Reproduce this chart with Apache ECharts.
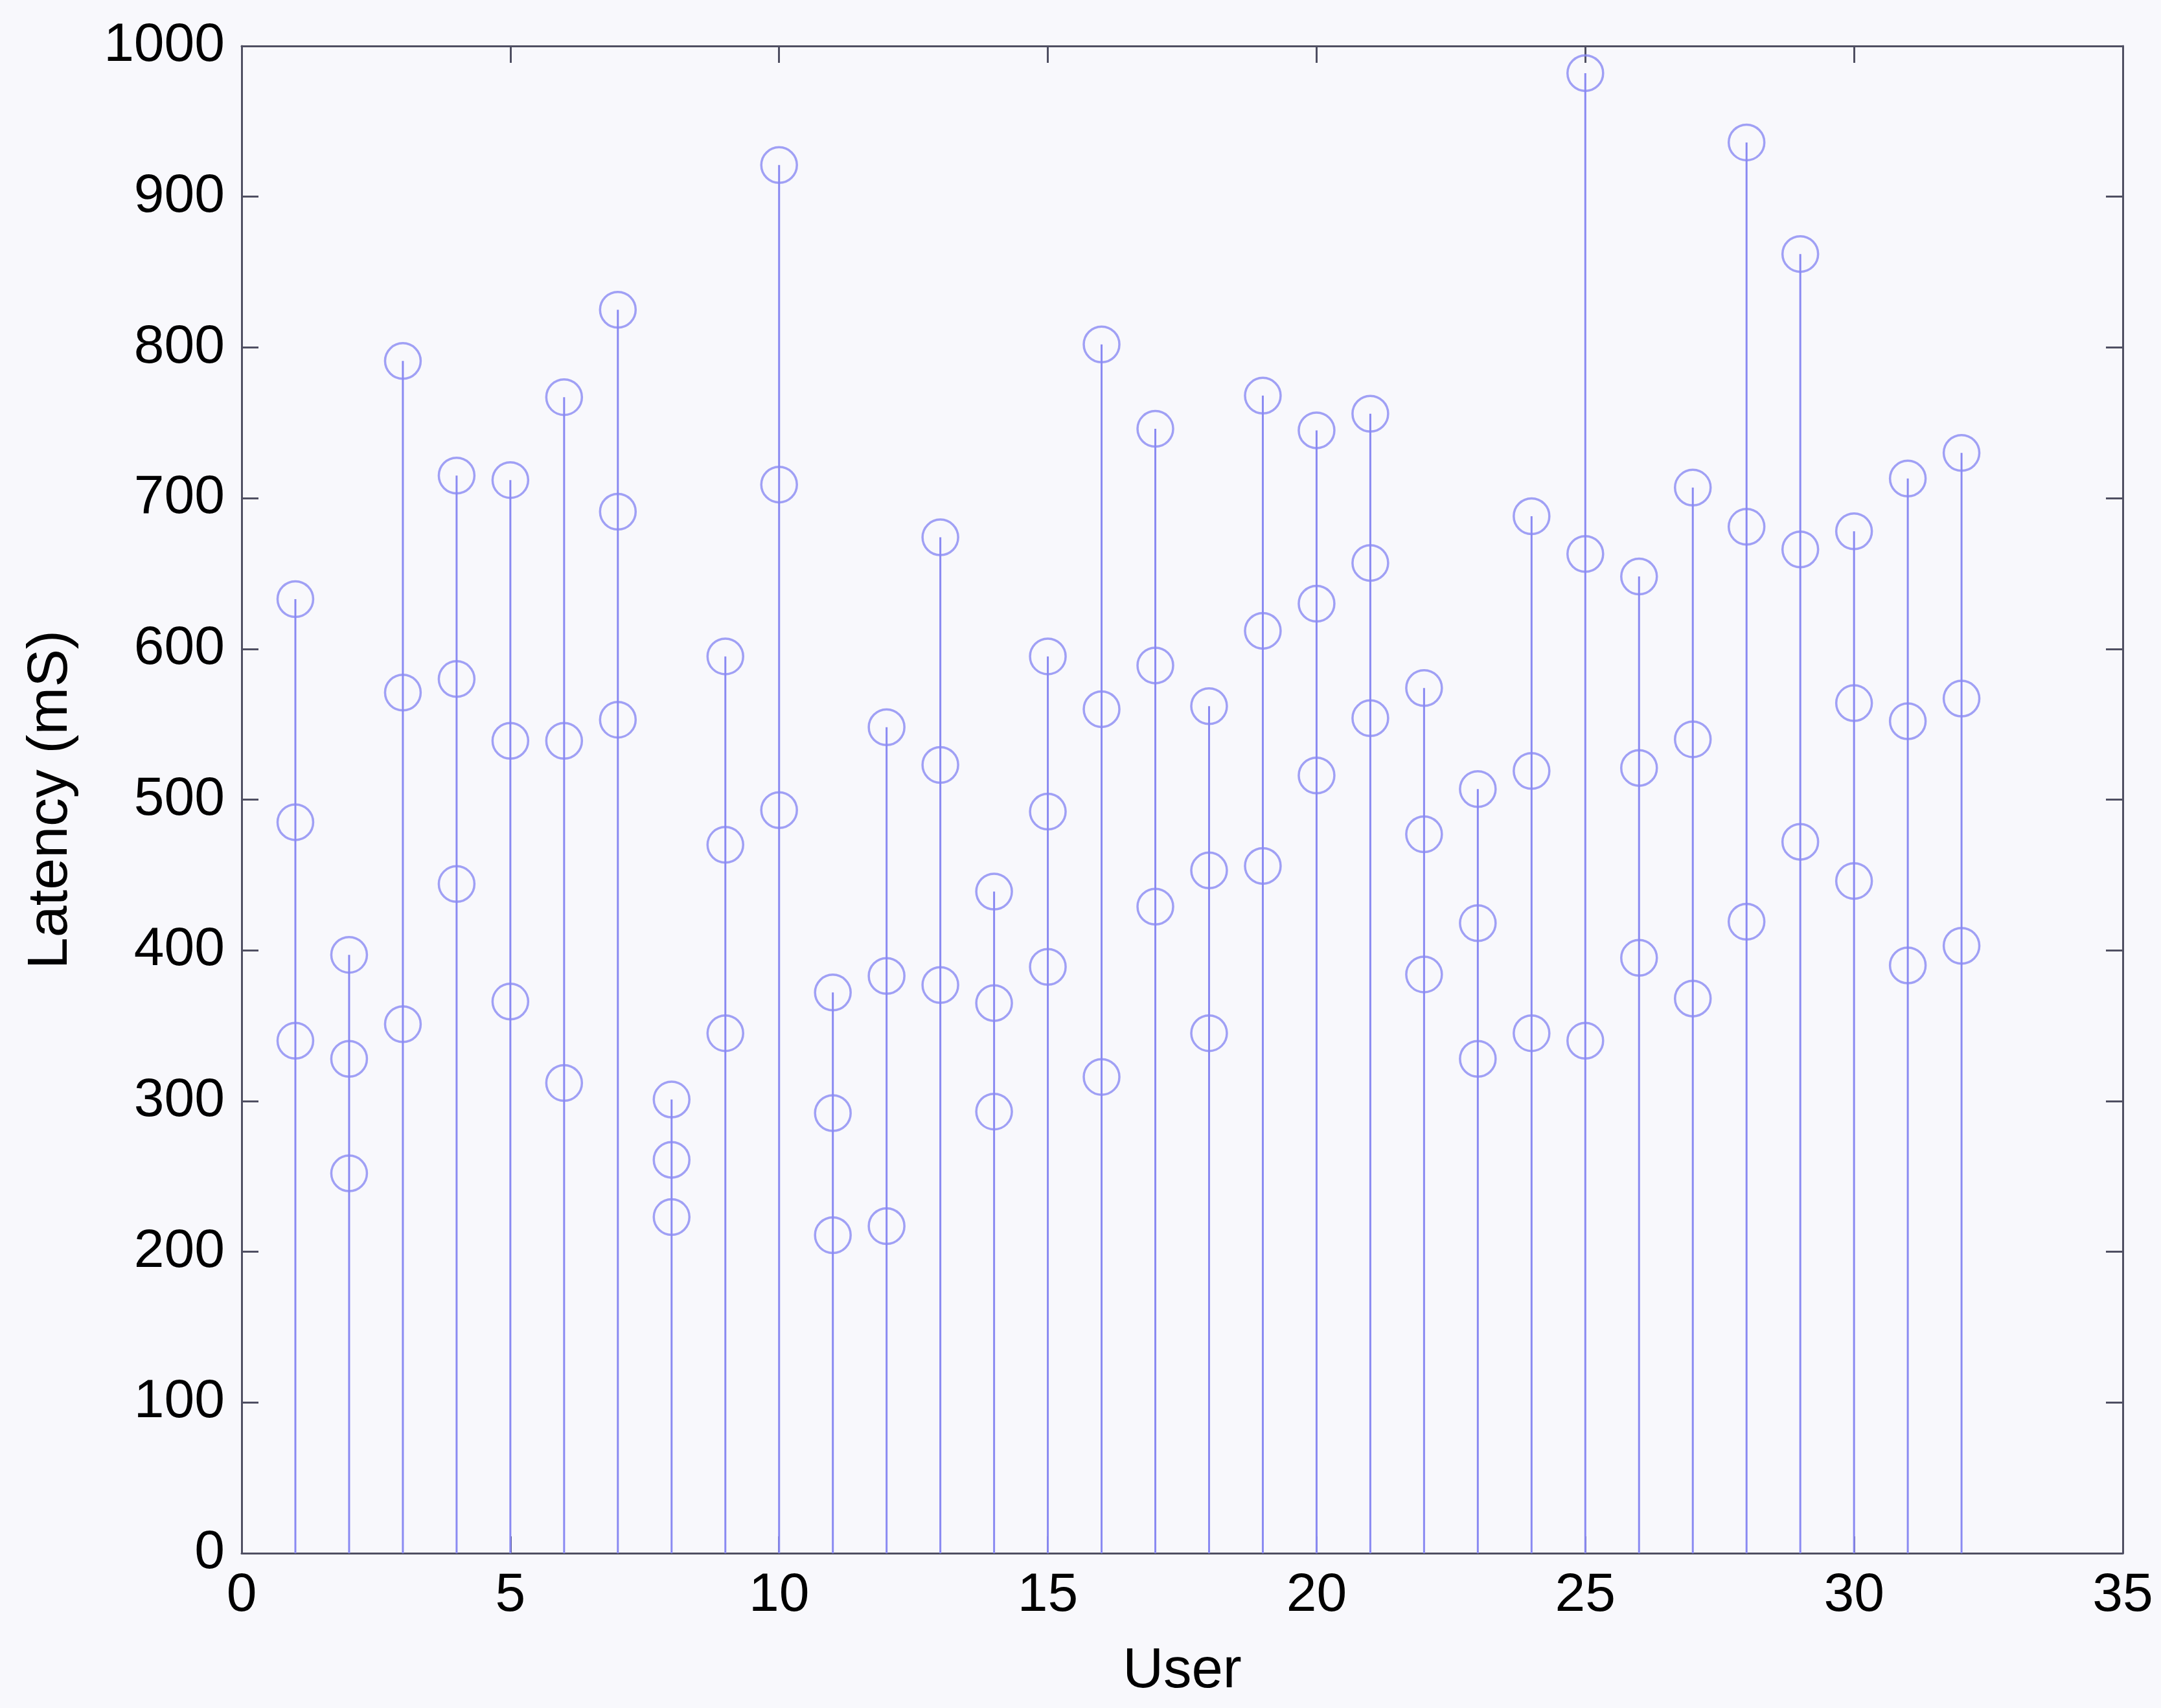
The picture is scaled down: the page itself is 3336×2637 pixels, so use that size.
<!DOCTYPE html>
<html>
<head>
<meta charset="utf-8">
<script src="https://cdn.jsdelivr.net/npm/echarts@6/dist/echarts.min.js"></script>
<style>
html,body{margin:0;padding:0;background:#f8f8fc;}
#chart{width:3336px;height:2637px;}
</style>
</head>
<body>
<div id="chart"></div>
<script>
const users = [1,2,3,4,5,6,7,8,9,10,11,12,13,14,15,16,17,18,19,20,21,22,23,24,25,26,27,28,29,30,31,32];
const latencyHigh = [633,397,791,715,712,767,825,301,595,921,372,548,674,439,595,802,746,562,768,745,756,574,507,688,982,648,707,936,862,678,713,730];
const latencyMid  = [485,328,571,580,539,539,691,261,470,709,292,383,523,365,492,560,589,453,612,630,657,477,418,519,663,521,540,681,666,564,552,567];
const latencyLow  = [340,252,351,444,366,312,553,223,345,493,211,217,377,293,389,316,429,345,456,516,554,384,328,345,340,395,368,419,472,446,390,403];
const xTicks = {min:0, max:35, interval:5};
const yTicks = {min:0, max:1000, interval:100};

const stemColor = '#8a8af2';
const axisColor = '#4f4f62';
const fontFam = "'Liberation Sans', Arial, Helvetica, sans-serif";

const chart = echarts.init(document.getElementById('chart'), null, {renderer:'canvas'});

function axisCommon(show, margin){
  return {
    axisLine:{show:true, onZero:false, lineStyle:{color:axisColor, width:3}},
    axisTick:{show:true, inside:true, length:26, lineStyle:{color:axisColor, width:3}},
    splitLine:{show:false},
    axisLabel:{show:show, color:'#000', fontSize:84, fontFamily:fontFam, margin:margin || 0,
      formatter:function(v){ return String(v); }}
  };
}

const scatterStyle = {color:'rgba(0,0,0,0)', borderColor:stemColor, borderWidth:3.5};
function pts(vals){ return users.map((u,i)=>[u, vals[i]]); }

chart.setOption({
  animation:false,
  backgroundColor:'#f8f8fc',
  grid:{left:373, right:59, top:71, bottom:239, containLabel:false, outerBoundsMode:'none'},
  xAxis:[
    Object.assign({type:'value', position:'bottom', min:xTicks.min, max:xTicks.max, interval:xTicks.interval,
      name:'User', nameLocation:'middle', nameGap:140,
      nameTextStyle:{color:'#000', fontSize:87, fontFamily:fontFam}}, axisCommon(true, 24)),
    Object.assign({type:'value', position:'top', min:xTicks.min, max:xTicks.max, interval:xTicks.interval}, axisCommon(false))
  ],
  yAxis:[
    Object.assign({type:'value', position:'left', min:yTicks.min, max:yTicks.max, interval:yTicks.interval,
      name:'Latency (mS)', nameLocation:'middle', nameGap:250,
      nameTextStyle:{color:'#000', fontSize:88, fontFamily:fontFam}}, axisCommon(true, 26)),
    Object.assign({type:'value', position:'right', min:yTicks.min, max:yTicks.max, interval:yTicks.interval}, axisCommon(false))
  ],
  series:[
    {
      type:'custom',
      xAxisIndex:0, yAxisIndex:0,
      data: pts(latencyHigh),
      renderItem:function(params, api){
        const x = api.value(0), y = api.value(1);
        const p0 = api.coord([x, 0]);
        const p1 = api.coord([x, y]);
        return {type:'line', shape:{x1:p0[0], y1:p0[1], x2:p1[0], y2:p1[1]},
          style:{stroke:stemColor, lineWidth:3}};
      },
      silent:true
    },
    {type:'scatter', symbol:'circle', symbolSize:55, data:pts(latencyHigh), itemStyle:scatterStyle, silent:true},
    {type:'scatter', symbol:'circle', symbolSize:55, data:pts(latencyMid), itemStyle:scatterStyle, silent:true},
    {type:'scatter', symbol:'circle', symbolSize:55, data:pts(latencyLow), itemStyle:scatterStyle, silent:true}
  ]
});
</script>
</body>
</html>
